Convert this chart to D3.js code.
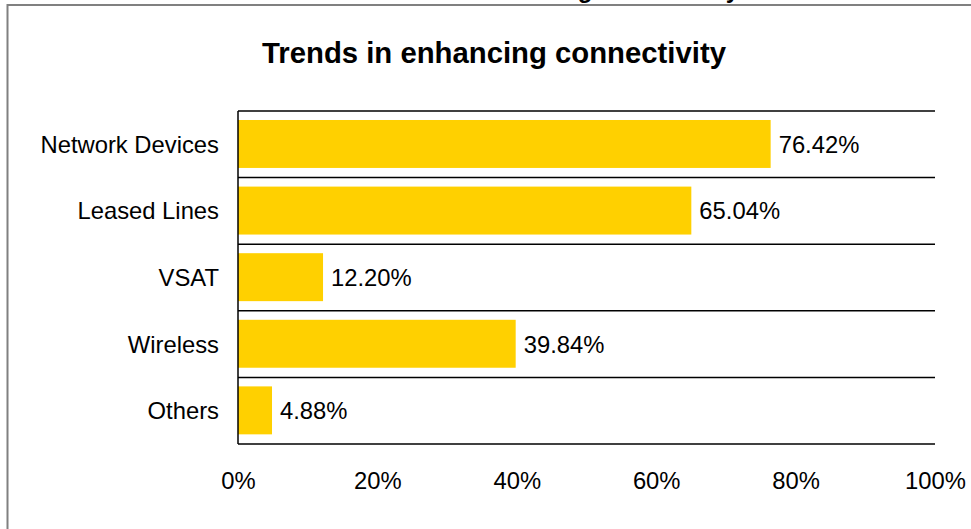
<!DOCTYPE html>
<html>
<head>
<meta charset="utf-8">
<script src="https://cdn.jsdelivr.net/npm/d3@7"></script>
<style>
  html, body { margin: 0; padding: 0; background: #fff; }
  svg { display: block; font-family: "Liberation Sans", Arial, sans-serif; }
</style>
</head>
<body>
<svg id="chart" width="971" height="529"></svg>
<script>
// Survey results: share of respondents per connectivity approach
const categories = ["Network Devices", "Leased Lines", "VSAT", "Wireless", "Others"];
const values = [76.42, 65.04, 12.20, 39.84, 4.88];
const tickValues = [0, 20, 40, 60, 80, 100];
const chartTitle = "Trends in enhancing connectivity";

const svg = d3.select("#chart");
const plot = { left: 238, right: 935, top: 111, bottom: 444 };

// outer frame
svg.append("rect")
  .attr("x", 7.5).attr("y", 5)
  .attr("width", 1000).attr("height", 1000)
  .attr("fill", "none")
  .attr("stroke", "#808080")
  .attr("stroke-width", 2);

// caption running above the frame (only the descenders fall inside the page)
svg.append("text")
  .attr("x", 739).attr("y", -2)
  .attr("text-anchor", "end")
  .attr("font-size", 24)
  .attr("font-weight", "bold")
  .attr("fill", "#000")
  .text(chartTitle);

// chart title
svg.append("text")
  .attr("x", 494).attr("y", 62.5)
  .attr("text-anchor", "middle")
  .attr("font-size", 29.3)
  .attr("font-weight", "bold")
  .attr("fill", "#000")
  .text(chartTitle);

const x = d3.scaleLinear().domain([0, 100]).range([plot.left, plot.right]);
const y = d3.scaleBand().domain(categories).range([plot.top, plot.bottom]).padding(0);
const bw = y.bandwidth();

// category separators (band boundaries)
const bounds = categories.map(c => y(c)).concat([plot.bottom]);
svg.append("g").selectAll("line")
  .data(bounds)
  .join("line")
  .attr("x1", plot.left).attr("x2", plot.right)
  .attr("y1", d => d).attr("y2", d => d)
  .attr("stroke", "#000")
  .attr("stroke-width", 1.5);

// bars
svg.append("g").selectAll("rect")
  .data(categories.map((c, i) => ({ c, v: values[i] })))
  .join("rect")
  .attr("x", x(0))
  .attr("y", d => y(d.c) + bw * 0.135)
  .attr("width", d => x(d.v) - x(0))
  .attr("height", bw * 0.72)
  .attr("fill", "#FFD000");

// vertical axis line
svg.append("line")
  .attr("x1", plot.left).attr("x2", plot.left)
  .attr("y1", plot.top).attr("y2", plot.bottom)
  .attr("stroke", "#000")
  .attr("stroke-width", 1.5);

// value labels
svg.append("g").selectAll("text")
  .data(categories.map((c, i) => ({ c, v: values[i] })))
  .join("text")
  .attr("x", d => x(d.v) + 8)
  .attr("y", d => y(d.c) + bw / 2)
  .attr("dy", "0.36em")
  .attr("font-size", 23.8)
  .attr("fill", "#000")
  .text(d => d.v.toFixed(2) + "%");

// category labels
const yAxis = d3.axisLeft(y).tickSize(0).tickPadding(19);
const gy = svg.append("g").attr("transform", `translate(${plot.left},0)`).call(yAxis);
gy.select(".domain").remove();
gy.selectAll("text")
  .attr("font-size", 23.8)
  .attr("font-family", "'Liberation Sans', Arial, sans-serif")
  .attr("fill", "#000")
  .attr("dy", "0.36em");

// percentage axis labels
const xAxis = d3.axisBottom(x).tickValues(tickValues).tickSize(0).tickPadding(0)
  .tickFormat(d => d + "%");
const gx = svg.append("g").attr("transform", `translate(0,480)`).call(xAxis);
gx.select(".domain").remove();
gx.selectAll("text")
  .attr("y", 0)
  .attr("dy", "0.36em")
  .attr("font-size", 23.8)
  .attr("font-family", "'Liberation Sans', Arial, sans-serif")
  .attr("fill", "#000");
</script>
</body>
</html>
